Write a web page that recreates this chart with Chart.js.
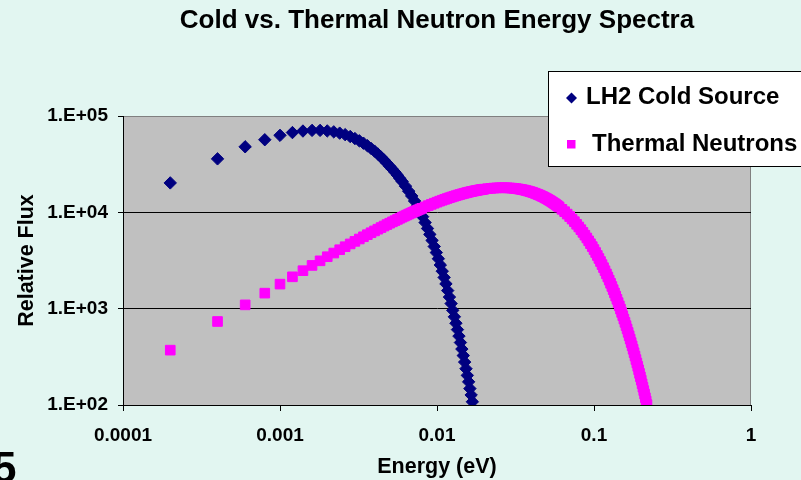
<!DOCTYPE html>
<html>
<head>
<meta charset="utf-8">
<script src="https://cdn.jsdelivr.net/npm/chart.js@4.4.1/dist/chart.umd.min.js"></script>
<style>
  html, body { margin: 0; padding: 0; background: #e2f6f1; }
  #wrap { width: 801px; height: 480px; position: relative; overflow: hidden; }
</style>
</head>
<body>
<div id="wrap"><canvas id="c"></canvas></div>
<script>
// ---- data ----
const chartTitle = 'Cold vs. Thermal Neutron Energy Spectra';
const xAxisTitle = 'Energy (eV)';
const yAxisTitle = 'Relative Flux';
const seriesNames = ['LH2 Cold Source', 'Thermal Neutrons'];

const xTickValues = [0.0001, 0.001, 0.01, 0.1, 1];
const xTickLabels = ['0.0001', '0.001', '0.01', '0.1', '1'];
const yTickValues = [100, 1000, 10000, 100000];
const yTickLabels = ['1.E+02', '1.E+03', '1.E+04', '1.E+05'];

const coldEnergy = [
  0.0002,0.0004,0.0006,0.0008,0.001,0.0012,0.0014,0.0016,0.0018,0.002,
  0.0022,0.0024,0.0026,0.0028,0.003,0.0032,0.0034,0.0036,0.0038,0.004,
  0.0042,0.0044,0.0046,0.0048,0.005,0.0052,0.0054,0.0056,0.0058,0.006,
  0.0063,0.0066,0.0069,0.0072,0.0075,0.0078,0.0081,0.0084,0.0087,0.009,
  0.0093,0.0096,0.0099,0.0102,0.0105,0.0108,0.0111,0.0114,0.0117,0.012,
  0.0123,0.0126,0.0129,0.0132,0.0135,0.0138,0.0141,0.0144,0.0147,0.015,
  0.0153,0.0156,0.0159,0.0162,0.0165,0.0168
];
const coldFlux = [
  20200,35900,47900,56700,63000,67300,69800,70900,70900,70000,
  68500,66400,64000,61200,58300,55300,52200,49200,46100,43200,
  40300,37500,34900,32400,30000,28000,26100,24300,22500,20900,
  18700,16600,14800,13100,11600,10300,9010,7830,6800,5900,
  5110,4420,3820,3300,2840,2450,2110,1810,1540,1320,
  1130,960,823,706,606,519,445,381,326,279,
  238,203,174,148,127,108
];

const thermalEnergy = [
  0.0002,0.0004,0.0006,0.0008,0.001,0.0012,0.0014,0.0016,0.0018,0.002,
  0.0022,0.0024,0.0026,0.0028,0.003,0.0032,0.0034,0.0036,0.0038,0.004,
  0.0042,0.0044,0.0046,0.0048,0.005,0.0052,0.0054,0.0056,0.0058,0.006,
  0.0062,0.0064,0.0066,0.0068,0.007,0.0072,0.0074,0.0076,0.0078,0.008,
  0.0084,0.0088,0.0092,0.0096,0.01,0.0104,0.0108,0.0112,0.0116,0.012,
  0.0124,0.0128,0.0132,0.0136,0.014,0.0144,0.0148,0.0152,0.0156,0.016,
  0.0164,0.0168,0.0172,0.0176,0.018,0.0184,0.0188,0.0192,0.0196,0.02,
  0.021,0.022,0.023,0.024,0.025,0.026,0.027,0.028,0.029,0.03,
  0.031,0.032,0.033,0.034,0.035,0.036,0.037,0.038,0.039,0.04,
  0.041,0.042,0.043,0.044,0.045,0.046,0.047,0.048,0.049,0.05,
  0.051,0.052,0.053,0.054,0.055,0.056,0.057,0.058,0.059,0.06,
  0.0625,0.065,0.0675,0.07,0.0725,0.075,0.0775,0.08,0.0825,0.085,
  0.0875,0.09,0.0925,0.095,0.0975,0.1,0.1025,0.105,0.1075,0.11,
  0.1125,0.115,0.1175,0.12,0.1225,0.125,0.1275,0.13,0.1325,0.135,
  0.1375,0.14,0.1425,0.145,0.1475,0.15,0.1525,0.155,0.1575,0.16,
  0.1625,0.165,0.1675,0.17,0.1725,0.175,0.1775,0.18,0.1825,0.185,
  0.1875,0.19,0.1925,0.195,0.1975,0.2,0.2025,0.205,0.2075,0.21,
  0.2125,0.215,0.2175
];
const thermalFlux = [
  371,736,1095,1449,1798,2141,2479,2811,3138,3461,
  3778,4090,4397,4699,4996,5289,5577,5860,6138,6412,
  6682,6947,7207,7464,7715,7963,8206,8446,8681,8912,
  9139,9362,9581,9796,10008,10215,10419,10620,10816,11009,
  11384,11746,12094,12428,12750,13059,13356,13641,13914,14175,
  14426,14666,14895,15114,15323,15522,15711,15891,16062,16225,
  16378,16524,16661,16790,16911,17025,17132,17231,17324,17409,
  17595,17743,17855,17933,17981,18000,17992,17960,17905,17828,
  17733,17619,17490,17345,17186,17015,16833,16641,16439,16229,
  16012,15788,15559,15325,15086,14844,14598,14351,14101,13850,
  13598,13346,13093,12840,12588,12337,12087,11839,11592,11347,
  10743,10156,9587,9037,8508,8001,7515,7051,6610,6190,
  5792,5416,5060,4723,4407,4108,3828,3564,3317,3085,
  2868,2665,2475,2298,2132,1978,1834,1699,1575,1458,
  1350,1250,1156,1069,989,914,845,780,721,666,
  615,567,523,483,445,411,379,349,322,296,
  273,252,232,213,196,181,166,153,141,130,
  119,110,101
];

// ---- styles ----
const FONT = '"Liberation Sans", Arial, sans-serif';
const coldColor = '#000080';
const thermalColor = '#ff00ff';

const coldPoints = coldEnergy.map((e, i) => ({ x: e, y: coldFlux[i] }));
const thermalPoints = thermalEnergy.map((e, i) => ({ x: e, y: thermalFlux[i] }));

const decorPlugin = {
  id: 'decor',
  beforeDraw(chart) {
    const { ctx, chartArea: a } = chart;
    ctx.save();
    ctx.fillStyle = '#c0c0c0';
    ctx.fillRect(a.left, a.top, a.right - a.left, a.bottom - a.top);
    ctx.strokeStyle = '#808080';
    ctx.lineWidth = 1;
    ctx.strokeRect(a.left + 0.5, a.top + 0.5, a.right - a.left - 1, a.bottom - a.top);
    ctx.restore();
  },
  afterDraw(chart) {
    const { ctx, chartArea: a } = chart;
    ctx.save();
    // title
    ctx.fillStyle = '#000';
    ctx.font = 'bold 26px ' + FONT;
    ctx.textAlign = 'center';
    ctx.textBaseline = 'middle';
    ctx.fillText(chartTitle, (a.left + a.right) / 2, 21);

    // legend box
    ctx.fillStyle = '#ffffff';
    ctx.fillRect(548, 71, 270, 96);
    ctx.strokeStyle = '#000';
    ctx.lineWidth = 1;
    ctx.strokeRect(548.5, 71.5, 270, 95);

    // legend markers
    ctx.fillStyle = coldColor;
    ctx.beginPath();
    ctx.moveTo(571.5, 92.5); ctx.lineTo(577, 98); ctx.lineTo(571.5, 103.5); ctx.lineTo(566, 98);
    ctx.closePath(); ctx.fill();
    ctx.fillStyle = thermalColor;
    ctx.fillRect(567, 140, 8.5, 8.5);

    // legend text
    ctx.fillStyle = '#000';
    ctx.font = 'bold 24px ' + FONT;
    ctx.textAlign = 'left';
    ctx.textBaseline = 'middle';
    ctx.fillText(seriesNames[0], 586, 97);
    ctx.fillText(seriesNames[1], 592, 144);

    // partial slide number at bottom-left
    ctx.font = 'bold 44px ' + FONT;
    ctx.textBaseline = 'alphabetic';
    ctx.fillText('5', -8, 483);
    ctx.restore();
  }
};

new Chart(document.getElementById('c'), {
  type: 'scatter',
  data: {
    datasets: [
      {
        label: seriesNames[0],
        data: coldPoints,
        pointStyle: 'rectRot',
        pointRadius: 6.2,
        pointBackgroundColor: coldColor,
        pointBorderColor: coldColor,
        pointBorderWidth: 1,
        showLine: false,
        order: 2
      },
      {
        label: seriesNames[1],
        data: thermalPoints,
        pointStyle: 'rect',
        pointRadius: 6.8,
        pointBackgroundColor: thermalColor,
        pointBorderColor: thermalColor,
        pointBorderWidth: 1,
        showLine: false,
        order: 1
      }
    ]
  },
  options: {
    responsive: true,
    maintainAspectRatio: false,
    animation: false,
    events: [],
    layout: { padding: { top: 116, right: 50, left: 0, bottom: 0 } },
    plugins: {
      legend: { display: false },
      title: { display: false },
      tooltip: { enabled: false }
    },
    scales: {
      x: {
        type: 'logarithmic',
        min: 0.0001,
        max: 1,
        afterBuildTicks: (s) => { s.ticks = xTickValues.map(v => ({ value: v })); },
        afterFit: (s) => { s.height = 75; },
        ticks: {
          autoSkip: false,
          maxRotation: 0,
          padding: 13,
          color: '#000',
          font: { family: FONT, size: 19, weight: 'bold' },
          callback: (v, i) => xTickLabels[i]
        },
        grid: { drawOnChartArea: false, tickLength: 6, tickColor: '#000' },
        border: { display: true, color: '#000', width: 1 },
        title: {
          display: true,
          text: xAxisTitle,
          color: '#000',
          font: { family: FONT, size: 21.5, weight: 'bold' },
          padding: { top: 0, bottom: 0 }
        }
      },
      y: {
        type: 'logarithmic',
        min: 100,
        max: 100000,
        afterBuildTicks: (s) => { s.ticks = yTickValues.map(v => ({ value: v })); },
        afterFit: (s) => { s.width = 123; },
        ticks: {
          autoSkip: false,
          padding: 10,
          color: '#000',
          font: { family: FONT, size: 19, weight: 'bold' },
          callback: (v, i) => yTickLabels[i]
        },
        grid: {
          tickLength: 5,
          tickColor: '#000',
          color: (c) => (c.tick && (c.tick.value === 1000 || c.tick.value === 10000)) ? '#000' : 'rgba(0,0,0,0)'
        },
        border: { display: true, color: '#000', width: 1 },
        title: {
          display: true,
          text: yAxisTitle,
          color: '#000',
          font: { family: FONT, size: 21.5, weight: 'bold' },
          padding: { top: 14, bottom: 0 }
        }
      }
    }
  },
  plugins: [decorPlugin]
});
</script>
</body>
</html>
